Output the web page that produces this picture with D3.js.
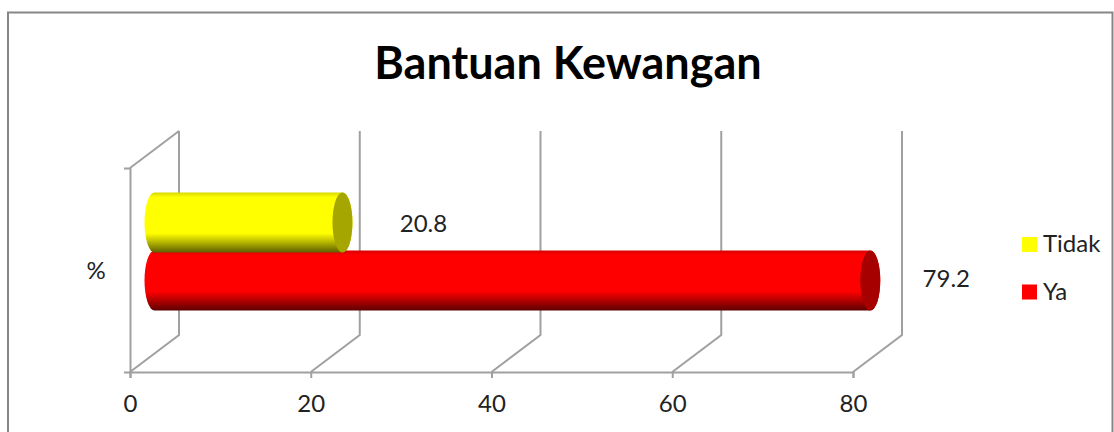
<!DOCTYPE html>
<html>
<head>
<meta charset="utf-8">
<script src="https://cdn.jsdelivr.net/npm/d3@7"></script>
<style>
html, body { margin: 0; padding: 0; background: #fff; overflow: hidden; }
text { font-family: Lato, "Open Sans", sans-serif; fill: #222; }
</style>
</head>
<body>
<svg id="chart"></svg>
<script>
const title = 'Bantuan Kewangan';
const category = '%';
const seriesNames = ['Tidak', 'Ya'];
const seriesValues = [20.8, 79.2];
const seriesColors = ['#ffff00', '#ff0000'];
const capColors = ['#a6a600', '#a60000'];
const edgeColors = ['#5f5f00', '#5f0000'];
const topColors = ['#d8d800', '#d80000'];
const tickValues = [0, 20, 40, 60, 80];

const width = 1114;
const height = 432;
const svg = d3.select('#chart').attr('width', width).attr('height', height);

// fake 3d: the back wall sits up and to the right of the front plane
const depthX = 49;
const depthY = -37;

const x = d3.scaleLinear().domain([0, 80]).range([130, 853]);
const yFront = d3.scaleBand().domain([category]).range([372, 168]);

// bars sit half way into the depth, they overlap a little like the original
const y = d3.scaleBand()
	.domain(seriesNames)
	.range([167 + depthY / 2, 371 + depthY / 2])
	.paddingInner(0)
	.paddingOuter(0.76);
const barDepthX = depthX / 2;
const barHeight = y.bandwidth() * 1.035;
const capRx = 10;

const defs = svg.append('defs');
seriesNames.forEach((name, i) => {
	const grad = defs.append('linearGradient')
		.attr('id', 'grad-' + name)
		.attr('x1', 0).attr('y1', 0).attr('x2', 0).attr('y2', 1);
	const stops = [[0, topColors[i]], [0.08, seriesColors[i]], [0.68, seriesColors[i]], [1, edgeColors[i]]];
	stops.forEach((s) => grad.append('stop').attr('offset', s[0]).attr('stop-color', s[1]));
});

// outer frame, runs past the bottom of the picture
svg.append('path')
	.attr('d', `M8,${height}V12.5H1112.5V${height}`)
	.attr('fill', 'none')
	.attr('stroke', '#868686')
	.attr('stroke-width', 2);

svg.append('text')
	.attr('x', 568)
	.attr('y', 79)
	.attr('text-anchor', 'middle')
	.attr('font-size', 45)
	.attr('font-weight', 700)
	.style('fill', '#000')
	.text(title);

const gridColor = '#a0a0a0';
const gridWidth = 2;
const floorY = yFront.range()[0];
const topY = yFront.range()[1];

// floor lines and back wall lines
svg.append('g').selectAll('path')
	.data(tickValues)
	.enter().append('path')
	.attr('d', (d) => `M${x(d)},${floorY}l${depthX},${depthY}V${topY + depthY}`)
	.attr('fill', 'none')
	.attr('stroke', gridColor)
	.attr('stroke-width', gridWidth);

// side wall top edge
svg.append('path')
	.attr('d', `M${x(0)},${topY}l${depthX},${depthY}`)
	.attr('fill', 'none')
	.attr('stroke', gridColor)
	.attr('stroke-width', gridWidth);

const xAxis = svg.append('g')
	.attr('transform', `translate(0,${floorY})`)
	.call(d3.axisBottom(x).tickValues(tickValues).tickSize(6).tickPadding(17).tickFormat(d3.format('d')));
xAxis.selectAll('path, line').attr('stroke', gridColor).attr('stroke-width', gridWidth);
xAxis.selectAll('text').attr('font-size', 24).attr('font-family', null);

const yAxis = svg.append('g')
	.attr('transform', `translate(${x(0)},0)`)
	.call(d3.axisLeft(yFront).tickValues([]).tickSize(6));
yAxis.selectAll('path').attr('stroke', gridColor).attr('stroke-width', gridWidth);

svg.append('text')
	.attr('x', 96)
	.attr('y', 279)
	.attr('text-anchor', 'middle')
	.attr('font-size', 24)
	.text(category);

// cylinders, Ya first so that Tidak lies over it
const bars = svg.append('g').selectAll('g')
	.data(seriesNames.map((name, i) => ({ name, value: seriesValues[i], i })).reverse())
	.enter().append('g')
	.attr('transform', (d) => `translate(${barDepthX},${y(d.name)})`);

bars.append('path')
	.attr('d', (d) => {
		const x0 = x(0);
		const x1 = x(d.value);
		const ry = barHeight / 2;
		return `M${x0},0H${x1}A${capRx},${ry} 0 0 1 ${x1},${barHeight}H${x0}A${capRx},${ry} 0 0 1 ${x0},0Z`;
	})
	.attr('fill', (d) => `url(#grad-${d.name})`);

bars.append('ellipse')
	.attr('cx', (d) => x(d.value))
	.attr('cy', barHeight / 2)
	.attr('rx', capRx)
	.attr('ry', barHeight / 2)
	.attr('fill', (d) => capColors[d.i]);

// data labels
const labelDx = [81, 76];
svg.append('g').selectAll('text')
	.data(seriesValues)
	.enter().append('text')
	.attr('x', (d, i) => x(d) + barDepthX + labelDx[i])
	.attr('y', (d, i) => y(seriesNames[i]) + barHeight / 2 + (i === 0 ? 9 : 6.5))
	.attr('text-anchor', 'middle')
	.attr('font-size', 24)
	.text((d) => d.toFixed(1));

// legend
const legendY = d3.scalePoint().domain(seriesNames).range([244.5, 292]);
const legend = svg.append('g').selectAll('g')
	.data(seriesNames)
	.enter().append('g')
	.attr('transform', (d) => `translate(1022,${legendY(d)})`);
legend.append('rect')
	.attr('y', -7.5)
	.attr('width', 15)
	.attr('height', 15)
	.attr('fill', (d, i) => seriesColors[i]);
legend.append('text')
	.attr('x', 21)
	.attr('y', 7.5)
	.attr('font-size', 24)
	.text((d) => d);
</script>
</body>
</html>
